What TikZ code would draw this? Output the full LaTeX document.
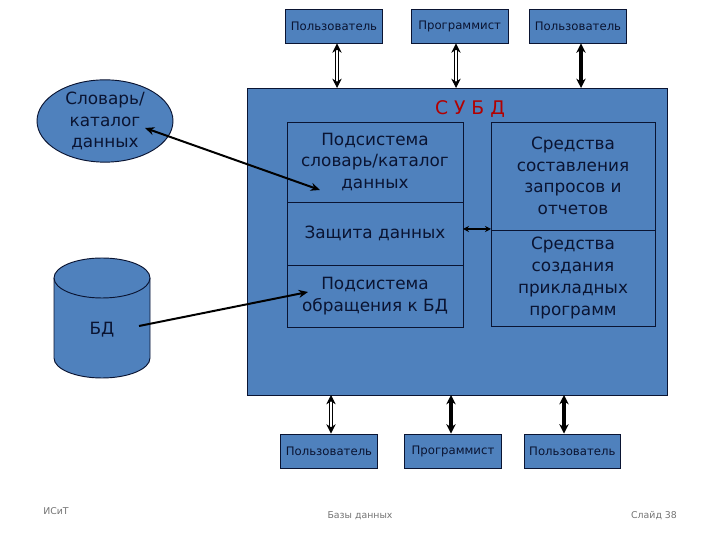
\documentclass[tikz,border=0pt]{standalone}
\usepackage{fontspec}
\setmainfont{DejaVu Sans}
\usetikzlibrary{arrows.meta,shapes.geometric}
\definecolor{boxblue}{HTML}{4F81BD}
\definecolor{inkblue}{HTML}{0A1432}
\tikzset{
  blockbox/.style={draw=inkblue,fill=boxblue,thick,inner sep=0pt,align=center,text=inkblue},
  userbox/.style={blockbox,minimum width=2.9cm,minimum height=1.02cm,font=\fontsize{10}{12}\selectfont},
  subbox/.style={draw=inkblue,inner sep=0pt,align=center,text=inkblue,font=\fontsize{14.4}{18.5}\selectfont},
  footlabel/.style={text=black!55,font=\fontsize{8}{10}\selectfont,inner sep=0pt},
  thinlink/.style={{Stealth[length=2.8mm,width=2.8mm]}-{Stealth[length=2.8mm,width=2.8mm]},double=white,double distance=1.5pt,line width=.8pt,draw=black},
  boldlink/.style={{Stealth[length=2.8mm,width=2.8mm]}-{Stealth[length=2.8mm,width=2.8mm]},line width=3pt},
  datalink/.style={{Stealth[length=2.8mm,width=2.4mm]}-{Stealth[length=2.8mm,width=2.4mm]},line width=1.7pt},
}
\begin{document}
\begin{tikzpicture}
\useasboundingbox (0,0) rectangle (21.6,16.2);
% main block
\node[blockbox,minimum width=12.6cm,minimum height=9.21cm] (dbms) at (13.71,8.955) {};
\node[text=red!70!black,font=\fontsize{16}{18}\selectfont,inner sep=0pt] (title) at (14.1,12.93) {С У Б Д};
% left column
\node[subbox,minimum width=5.28cm,minimum height=2.4cm] (dict) at (11.25,11.34) {Подсистема\\словарь/каталог\\данных};
\node[subbox,minimum width=5.28cm,minimum height=1.89cm] (guard) at (11.25,9.195) {Защита данных};
\node[subbox,minimum width=5.28cm,minimum height=1.86cm] (access) at (11.25,7.32) {Подсистема\\обращения к БД};
% right column
\node[subbox,minimum width=4.92cm,minimum height=3.24cm] (query) at (17.19,10.92) {Средства\\составления\\запросов и\\отчетов};
\node[subbox,minimum width=4.92cm,minimum height=2.88cm] (apps) at (17.19,7.86) {Средства\\создания\\прикладных\\программ};
% store side
\node[blockbox,ellipse,minimum width=4.08cm,minimum height=2.46cm,font=\fontsize{14.4}{18.5}\selectfont] (catalog) at (3.15,12.57) {Словарь/\\каталог\\данных};
\draw[draw=inkblue,fill=boxblue,thick] (1.62,7.86) -- (1.62,5.46) arc[start angle=180,end angle=360,x radius=1.44,y radius=.6] -- (4.5,7.86) arc[start angle=0,end angle=180,x radius=1.44,y radius=.6];
\draw[draw=inkblue,thick] (1.62,7.86) arc[start angle=180,end angle=360,x radius=1.44,y radius=.6];
\node[text=inkblue,font=\fontsize{14.4}{18.5}\selectfont,inner sep=0pt] (base) at (3.06,6.3) {БД};
% users on top
\node[userbox] (usertl) at (10.02,15.42) {Пользователь};
\node[userbox] (devt) at (13.79,15.42) {Программист};
\node[userbox] (usertr) at (17.34,15.42) {Пользователь};
% users below
\node[userbox] (userbl) at (9.87,2.67) {Пользователь};
\node[userbox] (devb) at (13.59,2.67) {Программист};
\node[userbox] (userbr) at (17.17,2.67) {Пользователь};
% footer
\node[footlabel] (foota) at (1.68,0.86) {ИСиТ};
\node[footlabel] (footb) at (10.8,0.72) {Базы данных};
\node[footlabel] (footc) at (19.62,0.72) {Слайд 38};
% free ends
\coordinate (dbmstl) at (10.11,13.56);
\coordinate (dbmstm) at (13.68,13.56);
\coordinate (dbmstr) at (17.43,13.56);
\coordinate (dbmsbl) at (9.93,4.35);
\coordinate (dbmsbm) at (13.53,4.35);
\coordinate (dbmsbr) at (16.92,4.35);
\coordinate (catalogend) at (4.35,12.36);
\coordinate (dictend) at (9.6,10.5);
\coordinate (baseend) at (4.17,6.42);
\coordinate (accessend) at (9.24,7.44);
\coordinate (guardend) at (13.89,9.33);
\coordinate (appsend) at (14.73,9.33);
% links
\draw[thinlink] (usertl.south-|dbmstl) -- (dbmstl);
\draw[thinlink] (devt.south-|dbmstm) -- (dbmstm);
\draw[boldlink] (usertr.south-|dbmstr) -- (dbmstr);
\draw[thinlink] (userbl.north-|dbmsbl) -- (dbmsbl);
\draw[boldlink] (devb.north-|dbmsbm) -- (dbmsbm);
\draw[boldlink] (userbr.north-|dbmsbr) -- (dbmsbr);
\draw[datalink] (catalogend) -- (dictend);
\draw[datalink,-{Stealth[length=2.8mm,width=2.4mm]}] (baseend) -- (accessend);
\draw[{Stealth[length=1.8mm,width=1.8mm]}-{Stealth[length=1.8mm,width=1.8mm]},line width=1.1pt] (guardend) -- (appsend);
\end{tikzpicture}
\end{document}
